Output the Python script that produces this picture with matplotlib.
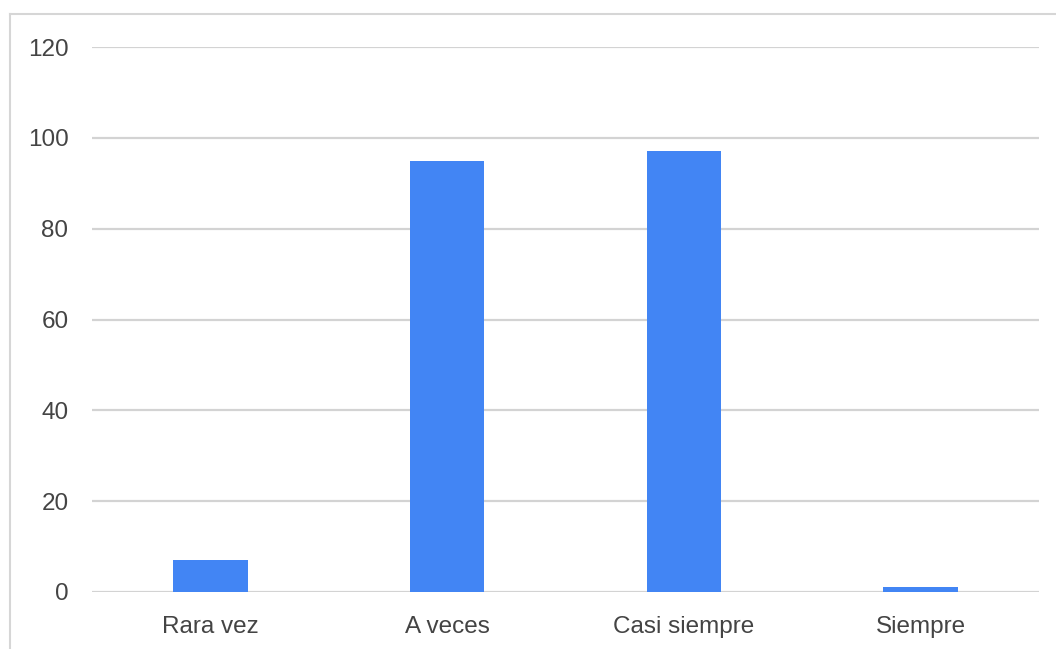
import matplotlib.pyplot as plt
from matplotlib.lines import Line2D

categories = ['Rara vez', 'A veces', 'Casi siempre', 'Siempre']
counts = [7, 95, 97, 1]
yticks = [0, 20, 40, 60, 80, 100, 120]

plt.rcParams['font.family'] = ['Liberation Sans', 'DejaVu Sans']

fig = plt.figure(figsize=(10.56, 6.49), dpi=100)
ax = fig.add_axes([92 / 1056, 57 / 649, 947 / 1056, 545 / 649])

x = range(len(categories))
ax.bar(x, counts, width=0.315, color='#4285f4', zorder=3)

ax.set_xlim(-0.5, len(categories) - 0.5)
ax.set_ylim(0, 120)
ax.set_yticks(yticks)
ax.set_xticks(list(x))
ax.set_xticklabels(categories)

ax.grid(axis='y', color='#d3d3d3', linewidth=1.6, zorder=0)
ax.tick_params(axis='both', length=0, labelsize=17.5, labelcolor='#444444')
ax.tick_params(axis='y', pad=17)
ax.tick_params(axis='x', pad=17)
for side in ['top', 'right', 'left', 'bottom']:
    ax.spines[side].set_visible(False)

# thin frame on the left and top of the image
fig.add_artist(Line2D([9.5 / 1056, 9.5 / 1056], [0, 1 - 14 / 649],
                      color='#d6d6d6', linewidth=1.5))
fig.add_artist(Line2D([9.5 / 1056, 1], [1 - 14 / 649, 1 - 14 / 649],
                      color='#d6d6d6', linewidth=1.5))

fig.savefig('out.png', dpi=100)
